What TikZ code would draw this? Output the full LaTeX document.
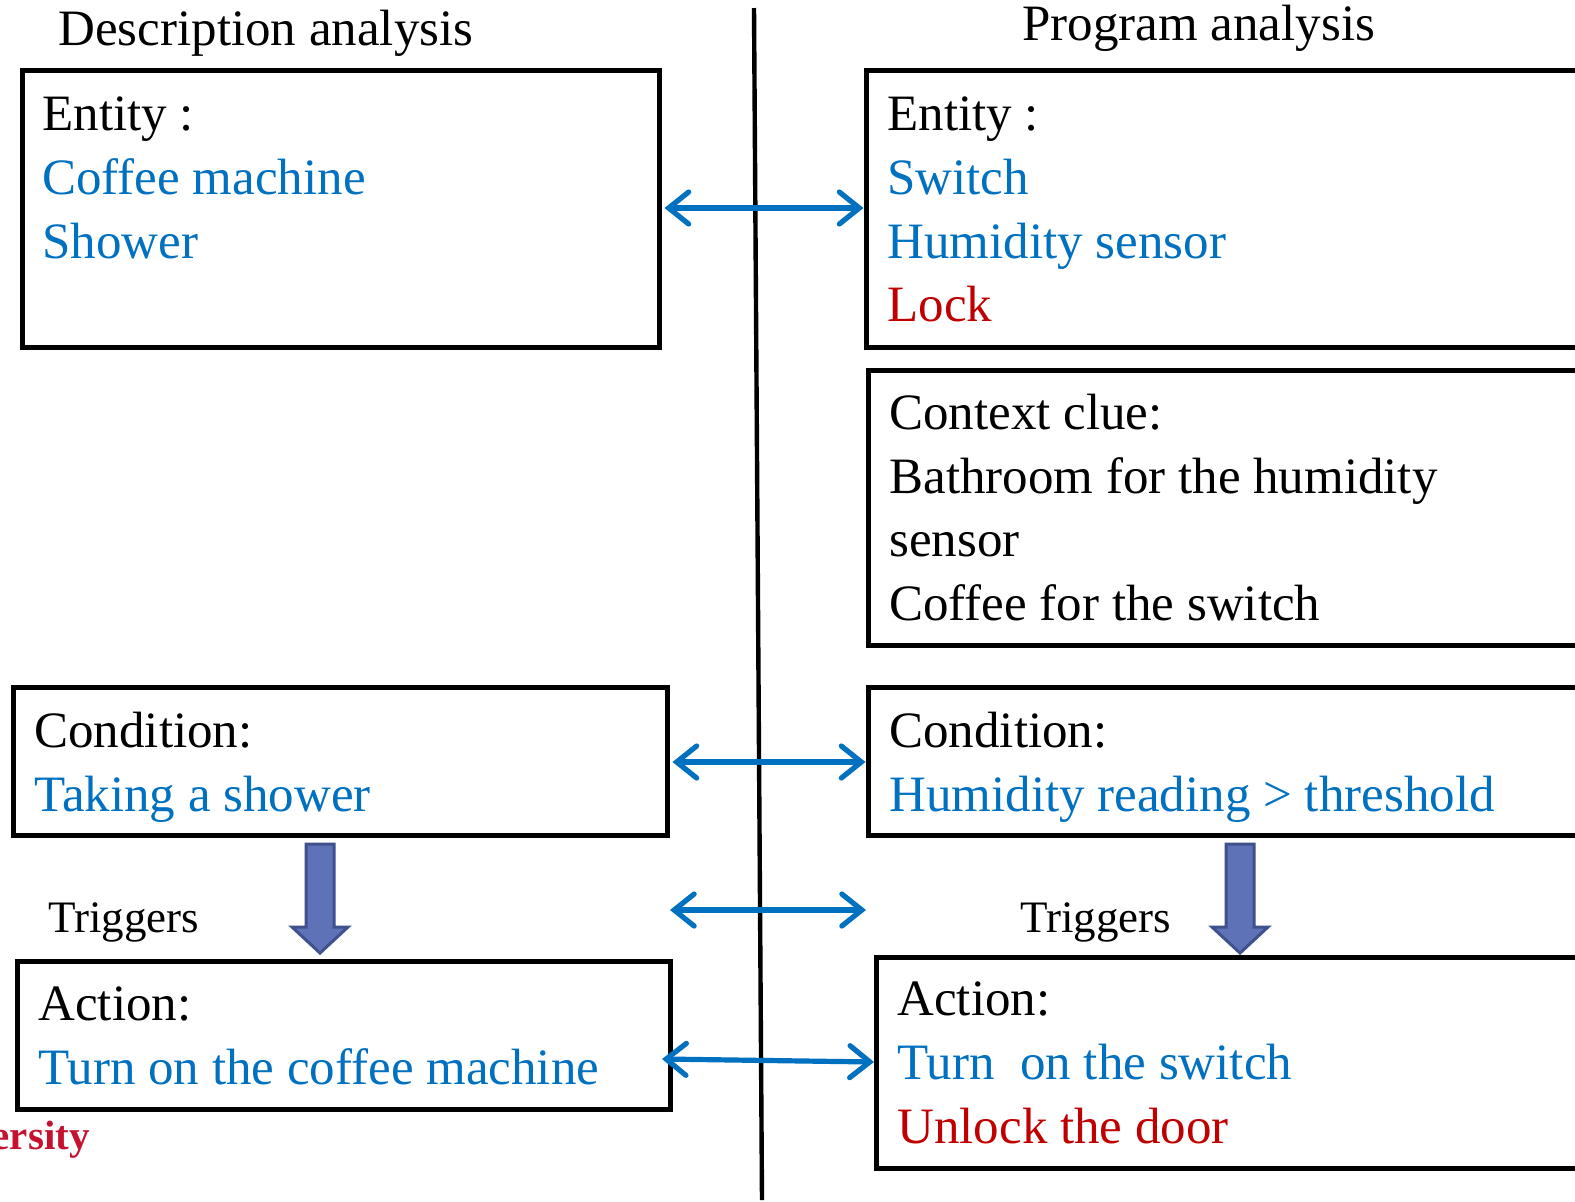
\documentclass[tikz,border=0pt]{standalone}
\usepackage{fontspec}
\setmainfont{Liberation Serif}
\usetikzlibrary{arrows.meta,fit}
\definecolor{linkblue}{RGB}{0,112,192}
\definecolor{warnred}{RGB}{192,0,0}
\definecolor{logored}{RGB}{196,18,48}
\definecolor{flowfill}{RGB}{94,114,184}
\definecolor{flowedge}{RGB}{63,81,140}
\tikzset{
  box/.style={draw=black, line width=2.5pt, inner sep=0pt, rectangle},
  txt/.style={anchor=base west, inner sep=0pt, font=\fontsize{25.5}{30}\selectfont},
  head/.style={anchor=base west, inner sep=0pt, font=\fontsize{25.5}{30}\selectfont},
  small/.style={anchor=base west, inner sep=0pt, font=\fontsize{22.5}{27}\selectfont},
  link/.style={draw=linkblue, line width=2.6pt,
    {Straight Barb[length=10pt,width=16pt,line cap=round]}-{Straight Barb[length=10pt,width=16pt,line cap=round]}},
  flow/.style={fill=flowfill, draw=flowedge, line width=1.5pt, line join=miter},
}
\begin{document}
\begin{tikzpicture}[x=0.5pt, y=-0.5pt]
\clip (0,0) rectangle (1575,1201);
\fill[white] (0,0) rectangle (1575,1201);

% column titles
\node[head] (titleL) at (58,45) {Description analysis};
\node[head] (titleR) at (1022,40) {Program analysis};

% divider between the two columns
\coordinate (divTop) at (754,8);
\coordinate (divBot) at (762,1200);
\draw[line width=2.2pt] (divTop) -- (divBot);

% boxes
\node[box, fit={(22,70)(659,347)}] (entL) {};
\node[box, fit={(866,70)(1595,347)}] (entR) {};
\node[box, fit={(868,370)(1595,645)}] (ctxR) {};
\node[box, fit={(13,687)(667,835)}] (condL) {};
\node[box, fit={(868,687)(1595,835)}] (condR) {};
\node[box, fit={(17,961)(670,1109)}] (actL) {};
\node[box, fit={(876,957)(1595,1168)}] (actR) {};

% left entity
\node[txt] (eL1) at (42,130) {Entity :};
\node[txt, text=linkblue] (eL2) at (42,194) {Coffee machine};
\node[txt, text=linkblue] (eL3) at (42,258) {Shower};

% right entity
\node[txt] (eR1) at (887,130) {Entity :};
\node[txt, text=linkblue] (eR2) at (887,194) {Switch};
\node[txt, text=linkblue] (eR3) at (887,258) {Humidity sensor};
\node[txt, text=warnred] (eR4) at (887,321) {Lock};

% context clue
\node[txt] (cR1) at (889,429) {Context clue:};
\node[txt] (cR2) at (889,493) {Bathroom for the humidity};
\node[txt] (cR3) at (889,556) {sensor};
\node[txt] (cR4) at (889,620) {Coffee for the switch};

% conditions
\node[txt] (dL1) at (34,747) {Condition:};
\node[txt, text=linkblue] (dL2) at (34,811) {Taking a shower};
\node[txt] (dR1) at (889,747) {Condition:};
\node[txt, text=linkblue] (dR2) at (889,811) {Humidity reading > threshold};

% actions
\node[txt] (aL1) at (38,1020) {Action:};
\node[txt, text=linkblue] (aL2) at (38,1084) {Turn on the coffee machine};
\node[txt] (aR1) at (897,1015) {Action:};
\node[txt, text=linkblue] (aR2) at (897,1079) {Turn\ \ on the switch};
\node[txt, text=warnred] (aR3) at (897,1143) {Unlock the door};

% triggers labels
\node[small] (trL) at (48,932) {Triggers};
\node[small] (trR) at (1020,932) {Triggers};

% downward block arrows
\draw[flow] (306,844) -- (334,844) -- (334,927) -- (348,927) -- (320,953)
  -- (292,927) -- (306,927) -- cycle;
\draw[flow] (1226,844) -- (1254,844) -- (1254,927) -- (1268,927) -- (1240,953)
  -- (1212,927) -- (1226,927) -- cycle;

% correspondence links
\draw[link] (entL.east |- 0,208) ++(3,0) coordinate (l1a) -- (entR.west |- 0,208) coordinate (l1b);
\draw[link] (condL.east |- 0,762) ++(3,0) coordinate (l2a) -- (condR.west |- 0,762) coordinate (l2b);
\coordinate (l3a) at (670,910);
\coordinate (l3b) at (866,910);
\draw[link] (l3a) -- (l3b);
\coordinate (l4a) at (662,1059);
\coordinate (l4b) at (874,1062);
\draw[link] (l4a) -- (l4b);

% partial logo text at the lower left
\node[anchor=base east, inner sep=0pt, text=logored,
  font=\bfseries\fontsize{20.5}{24}\selectfont] (logo) at (90,1149) {ersity};
\end{tikzpicture}
\end{document}
